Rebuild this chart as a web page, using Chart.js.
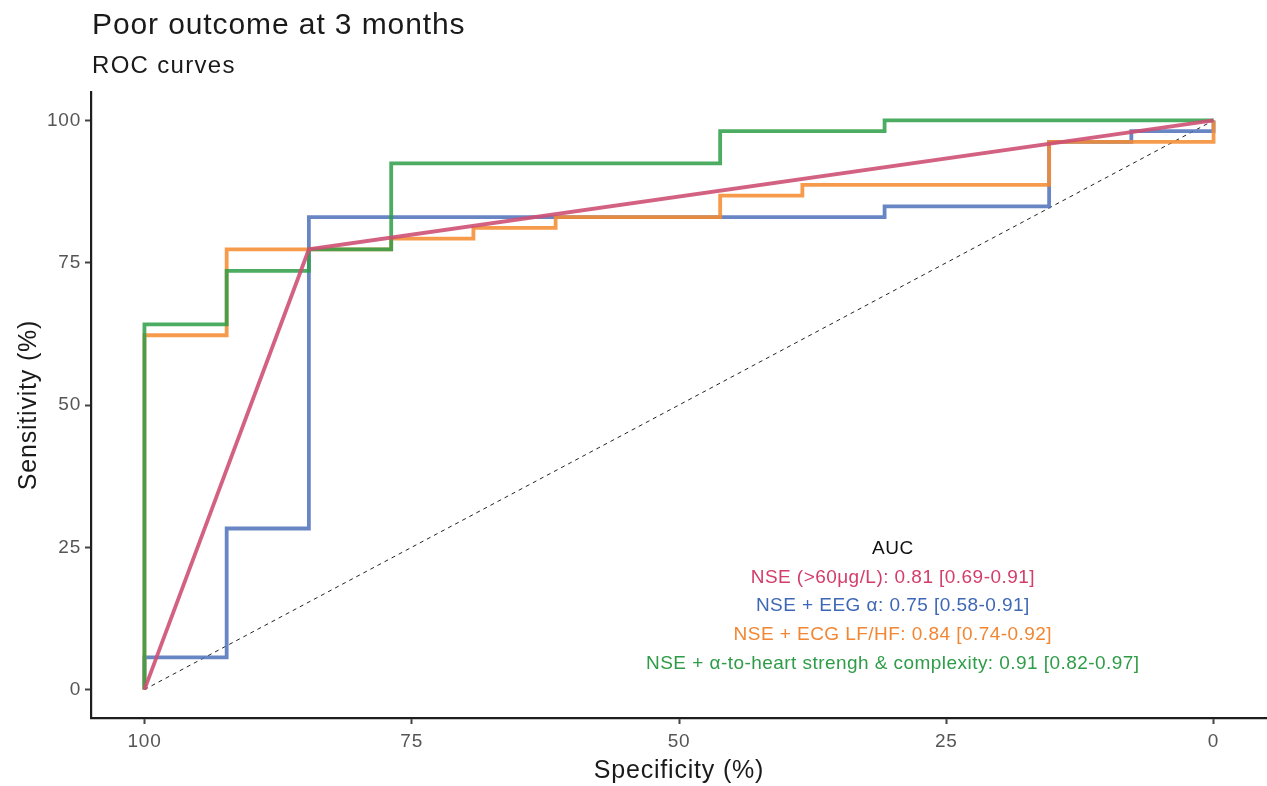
<!DOCTYPE html>
<html>
<head>
<meta charset="utf-8">
<script src="https://cdn.jsdelivr.net/npm/chart.js@4.4.1/dist/chart.umd.min.js"></script>
<style>
  html, body { margin: 0; padding: 0; background: #fff; }
  #wrap { width: 1267px; height: 786px; }
</style>
</head>
<body>
<div id="wrap"><canvas id="roc" width="1267" height="786"></canvas></div>
<script>
// ROC curve vertices (specificity %, sensitivity %)
const specNse = [100, 84.62, 0];
const sensNse = [0, 77.36, 100];

const specEeg = [100, 100, 92.31, 92.31, 84.62, 84.62, 30.77, 30.77, 15.38, 15.38, 7.69, 7.69, 0, 0];
const sensEeg = [0, 5.66, 5.66, 28.30, 28.30, 83.02, 83.02, 84.91, 84.91, 96.23, 96.23, 98.11, 98.11, 100];

const specEcg = [100, 100, 92.31, 92.31, 76.92, 76.92, 69.23, 69.23, 61.54, 61.54, 46.15, 46.15, 38.46, 38.46, 15.38, 15.38, 0, 0];
const sensEcg = [0, 62.26, 62.26, 77.36, 77.36, 79.25, 79.25, 81.13, 81.13, 83.02, 83.02, 86.79, 86.79, 88.68, 88.68, 96.23, 96.23, 100];

const specHeart = [100, 100, 92.31, 92.31, 84.62, 84.62, 76.92, 76.92, 46.15, 46.15, 30.77, 30.77, 0];
const sensHeart = [0, 64.15, 64.15, 73.58, 73.58, 77.36, 77.36, 92.45, 92.45, 98.11, 98.11, 100, 100];

const chanceSpec = [100, 0];
const chanceSens = [0, 100];

const xTicks = [100, 75, 50, 25, 0];
const yTicks = [0, 25, 50, 75, 100];

const aucTitle = 'AUC';
const aucLabels = [
  'NSE (>60\u03BCg/L): 0.81 [0.69-0.91]',
  'NSE + EEG \u03B1: 0.75 [0.58-0.91]',
  'NSE + ECG LF/HF: 0.84 [0.74-0.92]',
  'NSE + \u03B1-to-heart strengh & complexity: 0.91 [0.82-0.97]'
];
const aucTextColors = ['#D33C6B', '#3E68B5', '#F28633', '#2E9C48'];

const FONT = '"Liberation Sans", Arial, Helvetica, sans-serif';

function pts(xs, ys) {
  return xs.map((x, i) => ({ x: x, y: ys[i] }));
}

function line(label, xs, ys, color, order) {
  return {
    label: label,
    data: pts(xs, ys),
    borderColor: color,
    backgroundColor: color,
    borderWidth: 3.8,
    pointRadius: 0,
    showLine: true,
    fill: false,
    tension: 0,
    borderJoinStyle: 'miter',
    borderCapStyle: 'butt',
    order: order,
    clip: false
  };
}

// titles and the AUC box
const textPlugin = {
  id: 'texts',
  beforeDraw(chart) {
    // the reference text runs a little wider than Liberation Sans
    chart.ctx.letterSpacing = '0.8px';
  },
  afterDraw(chart) {
    const ctx = chart.ctx;
    ctx.save();
    ctx.textBaseline = 'alphabetic';
    ctx.textAlign = 'left';
    ctx.fillStyle = '#1a1a1a';
    ctx.letterSpacing = '0.9px';
    ctx.font = '30px ' + FONT;
    ctx.fillText('Poor outcome at 3 months', 92, 34);
    ctx.letterSpacing = '1.3px';
    ctx.font = '24px ' + FONT;
    ctx.fillText('ROC curves', 92, 73);

    const xs = chart.scales.x, ys = chart.scales.y;
    const cx = xs.getPixelForValue(30);
    let cy = ys.getPixelForValue(24.7);
    ctx.textAlign = 'center';
    ctx.textBaseline = 'middle';
    ctx.letterSpacing = '0.45px';
    ctx.font = '19px ' + FONT;
    ctx.fillStyle = '#111';
    ctx.fillText(aucTitle, cx, cy);
    aucLabels.forEach((t, i) => {
      cy += 28.6;
      ctx.fillStyle = aucTextColors[i];
      ctx.fillText(t, cx, cy);
    });
    ctx.restore();
    ctx.letterSpacing = '0px';
  }
};

new Chart(document.getElementById('roc'), {
  type: 'scatter',
  data: {
    datasets: [
      {
        label: 'chance',
        data: pts(chanceSpec, chanceSens),
        borderColor: '#222',
        borderWidth: 1,
        borderDash: [4, 4],
        pointRadius: 0,
        showLine: true,
        fill: false,
        order: 5
      },
      line('NSE + EEG', specEeg, sensEeg, 'rgba(80,114,186,0.86)', 4),
      line('NSE + ECG', specEcg, sensEcg, 'rgba(245,140,50,0.88)', 3),
      line('NSE + heart', specHeart, sensHeart, 'rgba(46,158,72,0.86)', 2),
      line('NSE', specNse, sensNse, 'rgba(206,80,116,0.9)', 1)
    ]
  },
  options: {
    responsive: false,
    animation: false,
    layout: { padding: { top: 92, right: 0, left: 0, bottom: 0 } },
    plugins: {
      legend: { display: false },
      tooltip: { enabled: false },
      title: { display: false }
    },
    scales: {
      x: {
        type: 'linear',
        reverse: true,
        min: -5,
        max: 105,
        afterBuildTicks: s => { s.ticks = xTicks.map(v => ({ value: v })); },
        afterFit: s => { s.height = 68; },
        border: { display: true, color: '#1e1e1e', width: 2.2 },
        grid: { drawOnChartArea: false, drawTicks: true, tickLength: 6, tickColor: '#444', tickWidth: 2 },
        ticks: { color: '#555', font: { family: FONT, size: 19 }, padding: 6, maxRotation: 0 },
        title: { display: true, text: 'Specificity (%)', color: '#1a1a1a', font: { family: FONT, size: 25 }, padding: { top: 0, bottom: 0 } }
      },
      y: {
        type: 'linear',
        min: -5,
        max: 105,
        afterBuildTicks: s => { s.ticks = yTicks.map(v => ({ value: v })); },
        afterFit: s => { s.width = 91; },
        border: { display: true, color: '#1e1e1e', width: 2.2 },
        grid: { drawOnChartArea: false, drawTicks: true, tickLength: 6, tickColor: '#444', tickWidth: 2 },
        ticks: { color: '#555', font: { family: FONT, size: 19 }, padding: 4 },
        title: { display: true, text: 'Sensitivity (%)', color: '#1a1a1a', font: { family: FONT, size: 25 }, padding: { top: 14, bottom: 0 } }
      }
    }
  },
  plugins: [textPlugin]
});
</script>
</body>
</html>
